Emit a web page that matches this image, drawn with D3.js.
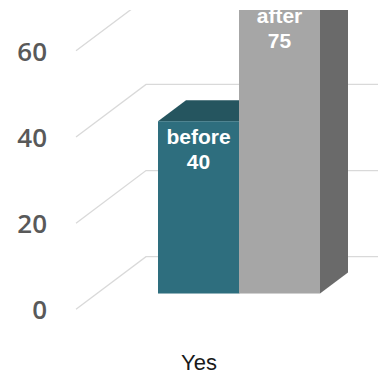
<!DOCTYPE html>
<html><head><meta charset="utf-8">
<script src="https://cdn.jsdelivr.net/npm/d3@7"></script>
<style>html,body{margin:0;padding:0;background:#fff;}svg{display:block;}</style>
</head><body>
<svg id="chart" width="378" height="375"></svg>
<script>
const categories = ["Yes"];
const seriesNames = ["before", "after"];
const seriesValues = [40, 75];
const tickValues = [0, 20, 40, 60];
const seriesColors = [
  {front: "#2e6e7e", top: "#25555f", side: "#1f4a54"},
  {front: "#a6a6a6", top: "#8a8a8a", side: "#6a6a6a"}
];

const W = 378, H = 375;
const DX = 70, DY = 52.6;           // depth projection of the plot floor
const depthFront = 0.3, depthBack = 0.7;
const svg = d3.select("#chart");

const y = d3.scaleLinear().domain([0, 80]).range([309.3, 309.3 - 80 * 4.3075]);
const xCat = d3.scaleBand().domain(categories).range([76, 370]);
const proj = (x, v, d) => [x + d * DX, y(v) - d * DY];

svg.append("defs").append("clipPath").attr("id", "plotClip")
  .append("rect").attr("x", 0).attr("y", 10).attr("width", W).attr("height", H - 10);

const plot = svg.append("g").attr("clip-path", "url(#plotClip)");

// gridlines: diagonal floor/wall line then back-wall horizontal
plot.append("g").selectAll("path").data(tickValues).join("path")
  .attr("d", t => {
    const a = proj(76, t, 0), b = proj(76, t, 1);
    return `M${a[0]},${a[1]}L${b[0]},${b[1]}L${W},${b[1]}`;
  })
  .attr("fill", "none").attr("stroke", "#d9d9d9").attr("stroke-width", 1.3);

// y labels
svg.append("g").selectAll("text").data(tickValues).join("text")
  .attr("x", 47).attr("y", t => y(t))
  .attr("text-anchor", "end").attr("dominant-baseline", "central")
  .attr("font-family", "'Open Sans', sans-serif").attr("font-size", 26)
  .attr("font-weight", 600)
  .attr("fill", "#595959").text(t => t);

// bars
const cat = categories[0];
const xSer = d3.scaleBand().domain(seriesNames)
  .range([xCat(cat) + 82 - depthFront * DX, xCat(cat) + 82 - depthFront * DX + 162]);

const bars = seriesNames.map((s, i) => ({name: s, value: seriesValues[i], color: seriesColors[i], x0: xSer(s), x1: xSer(s) + xSer.bandwidth()}));

const pt = p => p.join(",");
const barG = plot.append("g");
bars.forEach(b => {
  const g = barG.append("g");
  g.append("polygon").attr("points", [
    proj(b.x1, 0, depthFront), proj(b.x1, 0, depthBack),
    proj(b.x1, b.value, depthBack), proj(b.x1, b.value, depthFront)].map(pt).join(" "))
    .attr("fill", b.color.side);
  g.append("polygon").attr("points", [
    proj(b.x0, b.value, depthFront), proj(b.x0, b.value, depthBack),
    proj(b.x1, b.value, depthBack), proj(b.x1, b.value, depthFront)].map(pt).join(" "))
    .attr("fill", b.color.top);
  const f0 = proj(b.x0, b.value, depthFront), f1 = proj(b.x1, 0, depthFront);
  g.append("rect").attr("x", f0[0]).attr("y", f0[1])
    .attr("width", f1[0] - f0[0]).attr("height", f1[1] - f0[1])
    .attr("fill", b.color.front);
});

// bar labels
bars.forEach(b => {
  const f0 = proj(b.x0, b.value, depthFront), f1 = proj(b.x1, 0, depthFront);
  const cx = (f0[0] + f1[0]) / 2;
  const top = Math.max(f0[1], 0);
  const t = plot.append("text").attr("text-anchor", "middle")
    .attr("font-family", "'Liberation Sans', Arial, sans-serif")
    .attr("font-weight", "bold").attr("font-size", 21).attr("fill", "#ffffff");
  t.append("tspan").attr("x", cx).attr("y", top + 22.6).text(b.name);
  t.append("tspan").attr("x", cx).attr("y", top + 47.6).text(b.value);
});

// category label
svg.append("text").attr("x", xCat(cat) + xCat.bandwidth() / 2 - 24).attr("y", 370)
  .attr("text-anchor", "middle")
  .attr("font-family", "'Liberation Sans', Arial, sans-serif").attr("font-size", 22)
  .attr("fill", "#1a1a1a").text(cat);
</script>
</body></html>
